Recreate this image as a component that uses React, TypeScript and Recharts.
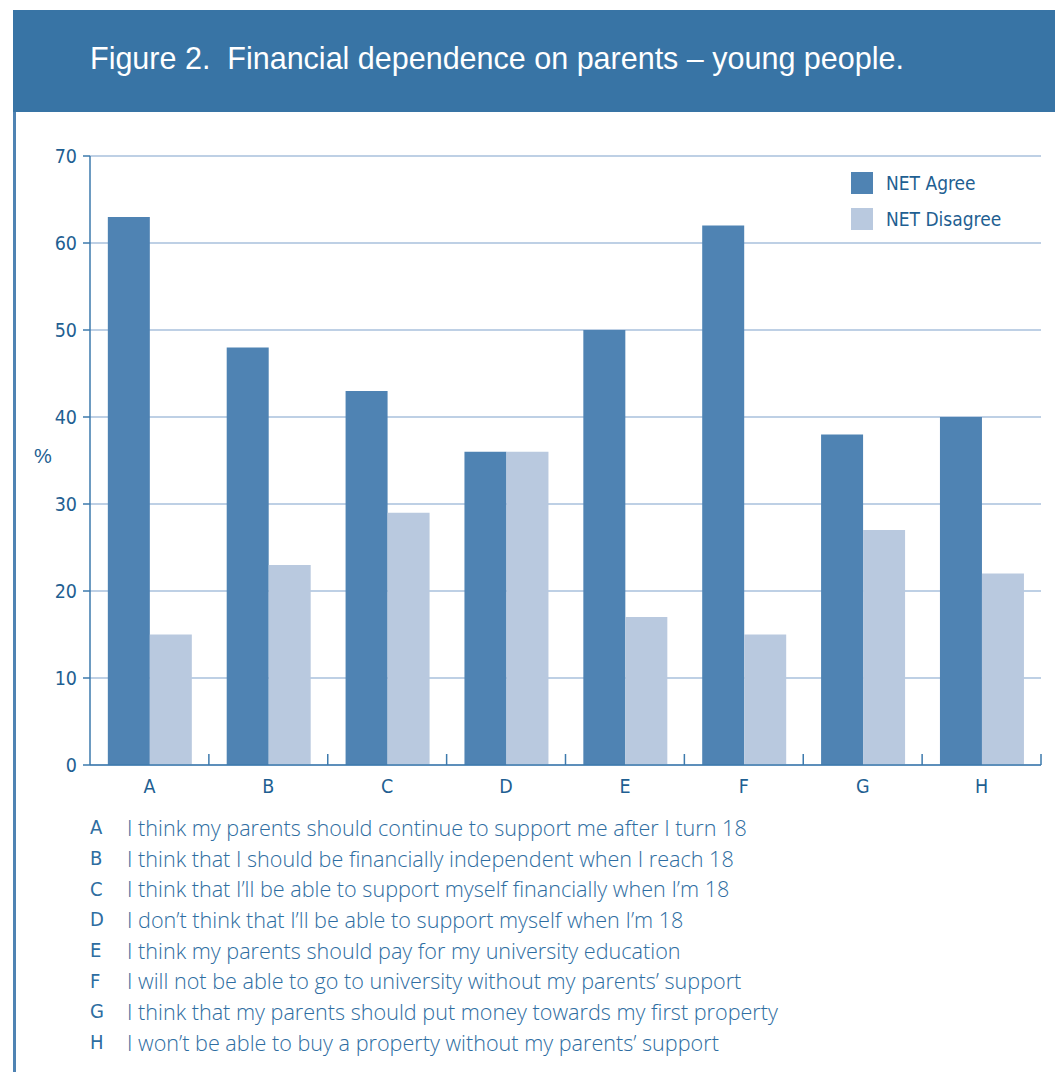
import React from "react"
import { BarChart, Bar, XAxis, YAxis, CartesianGrid } from "recharts"

document.body.style.margin = "0"

const CATEGORIES = ["A", "B", "C", "D", "E", "F", "G", "H"]
const NET_AGREE = [63, 48, 43, 36, 50, 62, 38, 40]
const NET_DISAGREE = [15, 23, 29, 36, 17, 15, 27, 22]
const Y_TICKS = [0, 10, 20, 30, 40, 50, 60, 70]
const SERIES_LABELS = ["NET Agree", "NET Disagree"]
const STATEMENTS = [
  "I think my parents should continue to support me after I turn 18",
  "I think that I should be financially independent when I reach 18",
  "I think that I\u2019ll be able to support myself financially when I\u2019m 18",
  "I don\u2019t think that I\u2019ll be able to support myself when I\u2019m 18",
  "I think my parents should pay for my university education",
  "I will not be able to go to university without my parents\u2019 support",
  "I think that my parents should put money towards my first property",
  "I won\u2019t be able to buy a property without my parents\u2019 support",
]

const data = CATEGORIES.map((c, i) => ({ name: c, agree: NET_AGREE[i], disagree: NET_DISAGREE[i] }))

const AGREE = "#4f83b3"
const DISAGREE = "#b9c9df"
const TEXT = "#1f5f92"
const AXIS = "#3d7aad"
const GRID = "#a9c0dd"
const NARROW = "'DejaVu Sans Condensed', 'Liberation Sans', Arial, sans-serif"
const SANS = "'Liberation Sans', Arial, sans-serif"

const W = 1055
const CHART_H = 800
const M = { top: 156, right: 14, left: 30, bottom: 5 }
const PLOT_W = W - M.left - 60 - M.right
const HALF_BAND = PLOT_W / CATEGORIES.length / 2

function XTick(props: any) {
  const { x, y, payload } = props
  return (
    <g>
      <line x1={x + HALF_BAND} x2={x + HALF_BAND} y1={y - 11} y2={y} stroke={AXIS} strokeWidth={1.5} />
      <text x={x} y={y + 28} textAnchor="middle" fill={TEXT} fontSize={19.5} fontFamily={NARROW}>
        {payload.value}
      </text>
    </g>
  )
}

function LegendBox() {
  const colors = [AGREE, DISAGREE]
  return (
    <div style={{ position: "absolute", left: 851, top: 165 }}>
      {SERIES_LABELS.map((label, i) => (
        <div key={label} style={{ display: "flex", alignItems: "center", height: 36 }}>
          <div style={{ width: 22, height: 22, background: colors[i], marginRight: 13 }} />
          <span style={{ fontFamily: NARROW, fontSize: 19, color: TEXT }}>{label}</span>
        </div>
      ))}
    </div>
  )
}

export default function App() {
  return (
    <div style={{ position: "relative", width: W, height: 1072, background: "#fff", overflow: "hidden" }}>
      <div style={{ position: "absolute", left: 13, top: 10, width: W - 13, height: 102, background: "#3874a5" }}>
        <div style={{ position: "absolute", left: 77, top: 31, color: "#fff", fontFamily: SANS, fontSize: 30.5, whiteSpace: "pre" }}>
          {"Figure 2.  Financial dependence on parents \u2013 young people."}
        </div>
      </div>
      <div style={{ position: "absolute", left: 13, top: 112, width: 3, height: 960, background: "#4f83b3" }} />
      <div style={{ position: "absolute", left: 34, top: 445, fontFamily: SANS, fontSize: 20, color: TEXT }}>%</div>
      <div style={{ position: "absolute", left: 0, top: 0 }}>
        <BarChart width={W} height={CHART_H} data={data} margin={M} barCategoryGap="15%" barGap={0}>
          <CartesianGrid vertical={false} stroke={GRID} strokeWidth={1.5} />
          <XAxis
            dataKey="name"
            stroke={AXIS}
            strokeWidth={1.5}
            tickLine={false}
            tickSize={0}
            tickMargin={0}
            height={30}
            tick={<XTick />}
            interval={0}
          />
          <YAxis
            domain={[0, 70]}
            ticks={Y_TICKS}
            width={60}
            stroke={AXIS}
            strokeWidth={1.5}
            tickSize={7}
            tickMargin={6}
            tick={{ fill: TEXT, fontSize: 19.5, fontFamily: NARROW }}
          />
          <Bar dataKey="agree" name={SERIES_LABELS[0]} fill={AGREE} isAnimationActive={false} />
          <Bar dataKey="disagree" name={SERIES_LABELS[1]} fill={DISAGREE} isAnimationActive={false} />
        </BarChart>
      </div>
      <LegendBox />
      <div style={{ position: "absolute", left: 90, top: 812 }}>
        {STATEMENTS.map((s, i) => (
          <div key={i} style={{ display: "flex", height: 30.7, alignItems: "center", color: "#2e6da1" }}>
            <span style={{ width: 37, fontFamily: NARROW, fontSize: 20 }}>{CATEGORIES[i]}</span>
            <span style={{ fontFamily: "'Open Sans', sans-serif", fontWeight: 300, fontSize: 21.6 }}>{s}</span>
          </div>
        ))}
      </div>
    </div>
  )
}
